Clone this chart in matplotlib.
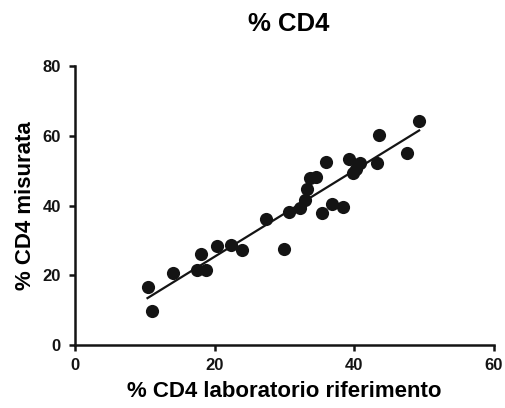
import numpy as np
import matplotlib
matplotlib.use("Agg")
import matplotlib.pyplot as plt

plt.rcParams['font.family'] = ['Liberation Sans', 'DejaVu Sans']
plt.rcParams['font.weight'] = 'bold'

# % CD4 reference lab vs measured
cd4_ref = [10.4, 11.1, 14.1, 17.5, 18.1, 18.8, 20.4, 22.3, 23.9, 27.3,
           29.9, 30.7, 32.3, 32.9, 33.2, 33.7, 34.6, 35.9, 35.4, 36.8,
           38.4, 39.3, 39.8, 40.2, 40.8, 43.2, 43.6, 47.5, 49.3]
cd4_mis = [16.8, 9.7, 20.6, 21.6, 26.2, 21.6, 28.4, 28.6, 27.4, 36.1,
           27.7, 38.1, 39.3, 41.6, 44.7, 47.8, 48.2, 52.4, 37.9, 40.5,
           39.6, 53.3, 49.3, 50.4, 52.3, 52.3, 60.3, 55.2, 64.4]

x = np.array(cd4_ref)
y = np.array(cd4_mis)
slope, intercept = np.polyfit(x, y, 1)
xf = np.array([x.min(), x.max()])

fig = plt.figure(figsize=(5.06, 4.08), dpi=100)
ax = fig.add_axes([0.148, 0.154, 0.828, 0.684])

ax.scatter(x, y, s=90, color='#141414', zorder=3, linewidths=0)
ax.plot(xf, slope * xf + intercept, color='#141414', lw=1.6, zorder=2)

ax.set_xlim(0, 60)
ax.set_ylim(0, 80)
ax.set_xticks([0, 20, 40, 60])
ax.set_yticks([0, 20, 40, 60, 80])
for s in ['top', 'right']:
    ax.spines[s].set_visible(False)
for s in ['left', 'bottom']:
    ax.spines[s].set_linewidth(1.8)
    ax.spines[s].set_color('#141414')
ax.tick_params(width=1.8, length=4, labelsize=12, colors='#141414')
ax.tick_params(axis='y', pad=6)
ax.tick_params(axis='x', pad=5)
for lab in ax.get_xticklabels() + ax.get_yticklabels():
    lab.set_fontweight('bold')

ax.set_xlabel('% CD4 laboratorio riferimento', fontsize=16, fontweight='bold', labelpad=6)
ax.set_ylabel('% CD4 misurata', fontsize=16, fontweight='bold', labelpad=5)
fig.text(0.571, 0.94, '% CD4', ha='center', va='center', fontsize=18.5, fontweight='bold')

fig.savefig('out.png', dpi=100)
